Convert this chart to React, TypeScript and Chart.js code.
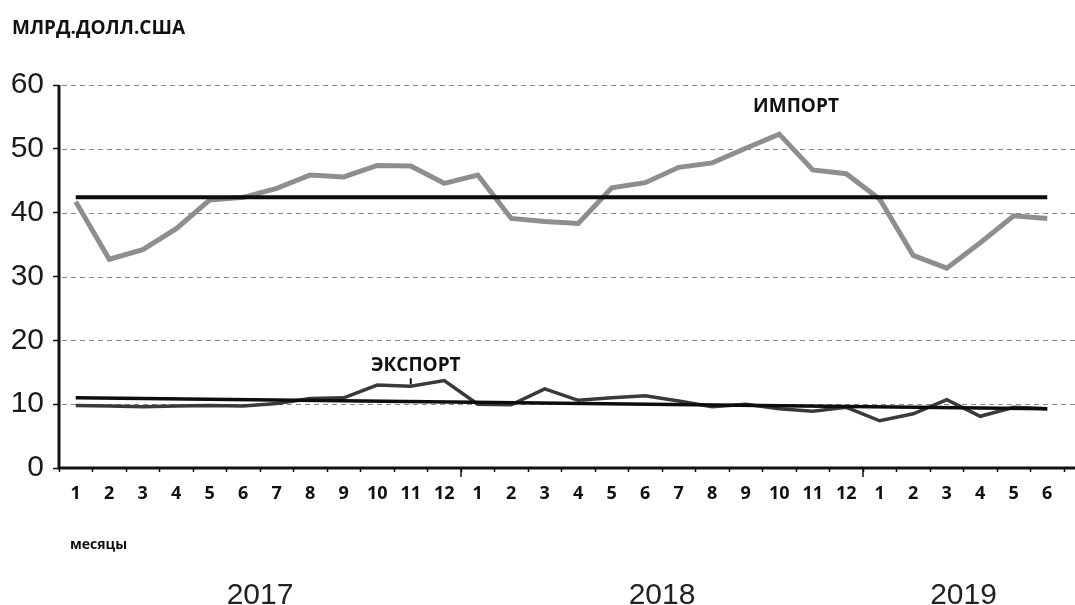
import React, { useEffect, useRef } from "react";
import { Chart, registerables } from "chart.js";

Chart.register(...registerables);

const monthLabels = [
  "1", "2", "3", "4", "5", "6", "7", "8", "9", "10", "11", "12",
  "1", "2", "3", "4", "5", "6", "7", "8", "9", "10", "11", "12",
  "1", "2", "3", "4", "5", "6",
];
const yearLabels = ["2017", "2018", "2019"];
const yearMonthCounts = [12, 12, 6];

const importValues = [
  41.7, 32.7, 34.2, 37.5, 42.0, 42.4, 43.8, 45.9, 45.6, 47.4, 47.3, 44.6,
  45.9, 39.1, 38.6, 38.3, 43.9, 44.7, 47.1, 47.8, 50.1, 52.3, 46.7, 46.1,
  42.1, 33.3, 31.3, 35.3, 39.5, 39.1,
];
const exportValues = [
  9.8, 9.7, 9.6, 9.7, 9.8, 9.7, 10.1, 10.9, 11.0, 13.0, 12.8, 13.7,
  10.0, 9.9, 12.4, 10.6, 11.0, 11.3, 10.5, 9.6, 10.0, 9.3, 8.9, 9.5,
  7.4, 8.5, 10.7, 8.1, 9.5, 9.3,
];
const importAverage = [42.4, 42.4]; // start, end
const exportTrend = [11.0, 9.3]; // start, end

const yTicks = [0, 10, 20, 30, 40, 50, 60];

const unitLabel = "МЛРД.ДОЛЛ.США";
const monthsLabel = "месяцы";
const importLabel = "ИМПОРТ";
const exportLabel = "ЭКСПОРТ";

function endpoints(pair: number[]): (number | null)[] {
  return monthLabels.map((_, i) =>
    i === 0 ? pair[0] : i === monthLabels.length - 1 ? pair[1] : null
  );
}

const overlayPlugin = {
  id: "overlay",
  beforeDatasetsDraw(chart: any) {
    const { ctx, chartArea, scales } = chart;
    const y = scales.y;
    ctx.save();
    ctx.strokeStyle = "#8a8a8a";
    ctx.lineWidth = 1.2;
    ctx.setLineDash([5, 4]);
    yTicks.forEach((v) => {
      if (v === 0) return;
      const py = Math.round(y.getPixelForValue(v)) + 0.5;
      ctx.beginPath();
      ctx.moveTo(chartArea.left + 3, py);
      ctx.lineTo(chart.width, py);
      ctx.stroke();
    });
    ctx.restore();
  },
  afterDraw(chart: any) {
    const { ctx, chartArea, scales } = chart;
    const x = scales.x;
    const y = scales.y;
    ctx.save();
    // axes lines
    ctx.strokeStyle = "#111";
    ctx.lineWidth = 3;
    ctx.beginPath();
    ctx.moveTo(chartArea.left, y.getPixelForValue(60));
    ctx.lineTo(chartArea.left, chartArea.bottom);
    ctx.lineTo(chart.width, chartArea.bottom);
    ctx.stroke();

    // year boundary ticks
    ctx.lineWidth = 1.5;
    let idx = 0;
    yearMonthCounts.slice(0, -1).forEach((c) => {
      idx += c;
      const px = (x.getPixelForValue(idx - 1) + x.getPixelForValue(idx)) / 2;
      ctx.beginPath();
      ctx.moveTo(px, chartArea.bottom);
      ctx.lineTo(px, chartArea.bottom + 9);
      ctx.stroke();
    });

    // pointer tick under export label
    const pxE = x.getPixelForValue(10);
    const pyE = y.getPixelForValue(exportValues[10]);
    ctx.lineWidth = 2;
    ctx.beginPath();
    ctx.moveTo(pxE, pyE - 2);
    ctx.lineTo(pxE, pyE - 8);
    ctx.stroke();

    ctx.fillStyle = "#111";
    ctx.textBaseline = "middle";
    ctx.textAlign = "center";
    ctx.font = 'bold 19px "Open Sans"';
    ctx.fillText(importLabel, x.getPixelForValue(21.5), y.getPixelForValue(56.6));
    ctx.fillText(exportLabel, x.getPixelForValue(10.15), y.getPixelForValue(16.0));

    ctx.textAlign = "left";
    ctx.font = 'bold 19px "Open Sans"';
    ctx.fillText(unitLabel, 12, 29);
    ctx.font = 'bold 14px "Open Sans"';
    ctx.fillText(monthsLabel, 70, 545);

    ctx.textAlign = "center";
    ctx.textBaseline = "alphabetic";
    ctx.fillStyle = "#222";
    ctx.font = '30px "Liberation Sans"';
    let start = 0;
    yearLabels.forEach((lbl, i) => {
      const c = yearMonthCounts[i];
      const px = (x.getPixelForValue(start) + x.getPixelForValue(start + c - 1)) / 2;
      ctx.fillText(lbl, px, 604);
      start += c;
    });
    ctx.restore();
  },
};

export default function App() {
  const canvasRef = useRef<HTMLCanvasElement | null>(null);

  useEffect(() => {
    const canvas = canvasRef.current;
    if (!canvas) return;
    const chart = new Chart(canvas, {
      type: "line",
      data: {
        labels: monthLabels,
        datasets: [
          {
            label: "avg",
            data: endpoints(importAverage),
            borderColor: "#0d0d0d",
            borderWidth: 4,
            pointRadius: 0,
            spanGaps: true,
            order: 0,
          },
          {
            label: "trend",
            data: endpoints(exportTrend),
            borderColor: "#0d0d0d",
            borderWidth: 3.5,
            pointRadius: 0,
            spanGaps: true,
            order: 0,
          },
          {
            label: "export",
            data: exportValues,
            borderColor: "#3a3a3a",
            borderWidth: 3.5,
            pointRadius: 0,
            tension: 0,
            order: 1,
          },
          {
            label: "import",
            data: importValues,
            borderColor: "#8e8e8e",
            borderWidth: 5,
            pointRadius: 0,
            tension: 0,
            order: 2,
          },
        ],
      },
      options: {
        animation: false,
        responsive: false,
        maintainAspectRatio: false,
        layout: { padding: { top: 85, right: 11, bottom: 0, left: 0 } },
        plugins: {
          legend: { display: false },
          tooltip: { enabled: false },
          title: { display: false },
        },
        scales: {
          x: {
            type: "category",
            offset: true,
            border: { display: false },
            grid: {
              offset: true,
              drawOnChartArea: false,
              drawTicks: true,
              tickLength: 4,
              tickColor: "#111",
              tickWidth: 1.5,
            },
            ticks: {
              autoSkip: false,
              maxRotation: 0,
              padding: 11,
              color: "#111",
              font: { family: "Open Sans", size: 18, weight: "bold" },
            },
            afterFit: (scale: any) => {
              scale.height = 605 - 468;
            },
          },
          y: {
            min: 0,
            max: 60,
            border: { display: false },
            grid: {
              drawOnChartArea: false,
              drawTicks: true,
              tickLength: 6,
              tickColor: "#111",
              tickWidth: 1.5,
            },
            ticks: {
              stepSize: 10,
              padding: 9,
              color: "#1a1a1a",
              font: { family: "Liberation Sans", size: 30 },
            },
            afterFit: (scale: any) => {
              scale.width = 59;
            },
          },
        },
      },
      plugins: [overlayPlugin],
    });
    return () => chart.destroy();
  }, []);

  return (
    <div style={{ position: "fixed", left: 0, top: 0, width: 1075, height: 605, background: "#fff" }}>
      <canvas ref={canvasRef} width={1075} height={605} style={{ width: 1075, height: 605, display: "block" }} />
    </div>
  );
}
